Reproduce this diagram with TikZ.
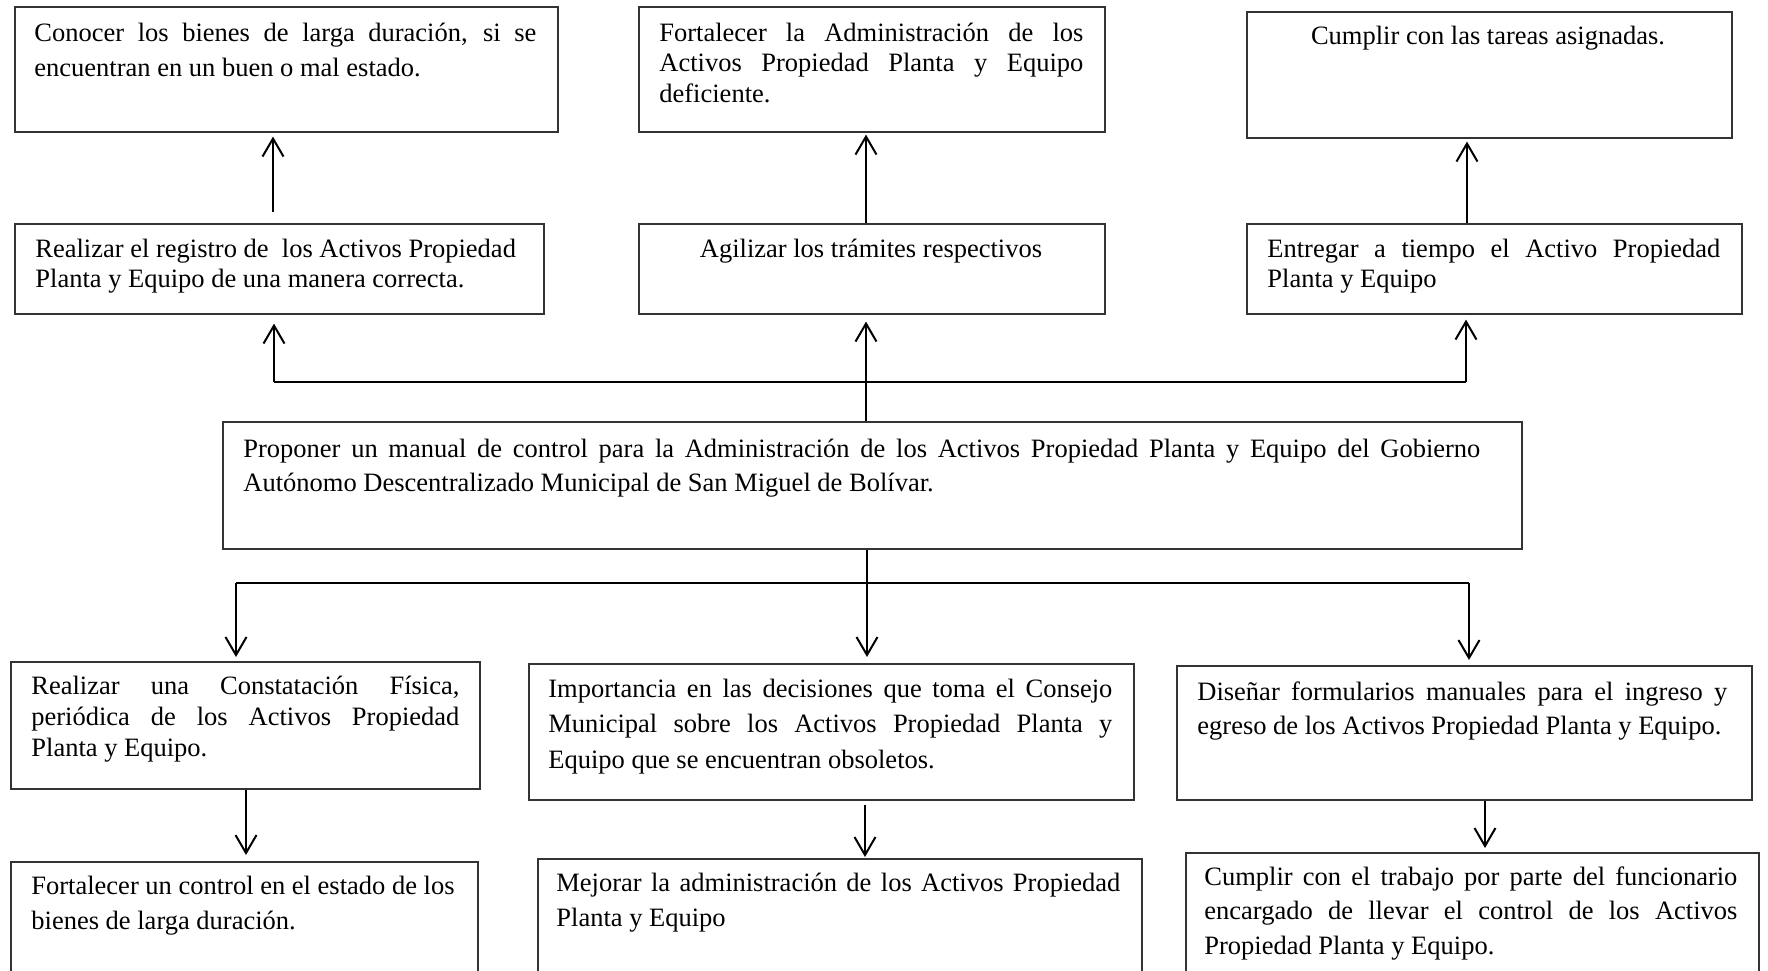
\documentclass[tikz,border=0pt]{standalone}
\usepackage{fontspec}
\setmainfont{Liberation Serif}
\usetikzlibrary{arrows.meta}
% one full-width justified line
\newcommand{\justline}[2]{\makebox[#1][s]{#2}}
\begin{document}
\begin{tikzpicture}[x=0.5pt,y=-0.5pt,
  box/.style={draw=black!80, line width=0.8pt, anchor=north west, inner sep=0pt},
  txt/.style={anchor=base west, inner sep=0pt, font=\fontsize{13.25}{#1}\selectfont},
  ctxt/.style={anchor=base, inner sep=0pt, font=\fontsize{13.25}{16}\selectfont},
  wire/.style={line width=1pt},
  conn/.style={line width=1pt, -{Straight Barb[length=9pt,width=10.5pt]}}]
\useasboundingbox (0,0) rectangle (1768,970);
\clip (0,0) rectangle (1768,970);

% boxes
\node[box, minimum width=271.5pt, minimum height=62.5pt] (A1) at (14,6) {};
\node[box, minimum width=233pt,   minimum height=62.5pt] (B1) at (638,6) {};
\node[box, minimum width=242.5pt, minimum height=63pt]   (C1) at (1246,11) {};
\node[box, minimum width=264.5pt, minimum height=45pt]   (A2) at (14,223) {};
\node[box, minimum width=233pt,   minimum height=45pt]   (B2) at (638,223) {};
\node[box, minimum width=247.5pt, minimum height=45pt]   (C2) at (1246,223) {};
\node[box, minimum width=649.5pt, minimum height=63.5pt] (M)  at (222,421) {};
\node[box, minimum width=234.5pt, minimum height=63.5pt] (D1) at (10,661) {};
\node[box, minimum width=302.5pt, minimum height=68pt]   (E1) at (528,663) {};
\node[box, minimum width=287.5pt, minimum height=67pt]   (F1) at (1176,665) {};
\node[box, minimum width=233.5pt, minimum height=75pt]   (D2) at (10,861) {};
\node[box, minimum width=302pt,   minimum height=75pt]   (E2) at (537,858) {};
\node[box, minimum width=286.5pt, minimum height=75pt]   (F2) at (1185,852) {};

% texts
\node[txt=17.5pt] (tA1) at (34,41) {\parbox[t]{270pt}{%
  \justline{251pt}{Conocer los bienes de larga duración, si se}\\
  encuentran en un buen o mal estado.}};
\node[txt=15.25pt] (tB1) at (659,41) {\parbox[t]{230pt}{%
  \justline{212pt}{Fortalecer la Administración de los}\\
  \justline{212pt}{Activos Propiedad Planta y Equipo}\\
  deficiente.}};
\node[ctxt] (tC1) at (1488,44) {Cumplir con las tareas asignadas.};
\node[txt=15pt] (tA2) at (35,257) {\parbox[t]{260pt}{%
  Realizar el registro de\ \ los Activos Propiedad\\
  Planta y Equipo de una manera correcta.}};
\node[ctxt] (tB2) at (871,257) {Agilizar los trámites respectivos};
\node[txt=15pt] (tC2) at (1267,257) {\parbox[t]{240pt}{%
  \justline{226.5pt}{Entregar a tiempo el Activo Propiedad}\\
  Planta y Equipo}};
\node[txt=17pt] (tM) at (243,457) {\parbox[t]{640pt}{%
  \justline{618.5pt}{Proponer un manual de control para la Administración de los Activos Propiedad Planta y Equipo del Gobierno}\\
  Autónomo Descentralizado Municipal de San Miguel de Bolívar.}};
\node[txt=15.5pt] (tD1) at (31,694) {\parbox[t]{230pt}{%
  \justline{214pt}{Realizar una Constatación Física,}\\
  \justline{214pt}{periódica de los Activos Propiedad}\\
  Planta y Equipo.}};
\node[txt=17.75pt] (tE1) at (548,697) {\parbox[t]{300pt}{%
  \justline{282pt}{Importancia en las decisiones que toma el Consejo}\\
  \justline{282pt}{Municipal sobre los Activos Propiedad Planta y}\\
  Equipo que se encuentran obsoletos.}};
\node[txt=17pt] (tF1) at (1197,700) {\parbox[t]{285pt}{%
  \justline{265pt}{Diseñar formularios manuales para el ingreso y}\\
  egreso de los Activos Propiedad Planta y Equipo.}};
\node[txt=17.5pt] (tD2) at (31,894) {\parbox[t]{230pt}{%
  Fortalecer un control en el estado de los\\
  bienes de larga duración.}};
\node[txt=17.5pt] (tE2) at (556,891) {\parbox[t]{300pt}{%
  \justline{282pt}{Mejorar la administración de los Activos Propiedad}\\
  Planta y Equipo}};
\node[txt=17.25pt] (tF2) at (1204,885) {\parbox[t]{280pt}{%
  \justline{266.5pt}{Cumplir con el trabajo por parte del funcionario}\\
  \justline{266.5pt}{encargado de llevar el control de los Activos}\\
  Propiedad Planta y Equipo.}};

% connector columns and bus junctions
\coordinate (xa) at (273,0);
\coordinate (xb) at (866,0);
\coordinate (xc) at (1467,0);
\coordinate (tbL) at (274,382);
\coordinate (tbR) at (1466,382);
\coordinate (bbL) at (236,583);
\coordinate (bbC) at (867,583);
\coordinate (bbR) at (1469,583);
\coordinate (xd) at (246,0);
\coordinate (xe) at (865,0);
\coordinate (xf) at (1485,0);

% upper level
\draw[conn, shorten <=5.5pt, shorten >=2pt] (A2.north -| xa) -- (A1.south -| xa);
\draw[conn, shorten >=1pt] (B2.north -| xb) -- (B1.south -| xb);
\draw[conn, shorten >=1.5pt] (C2.north -| xc) -- (C1.south -| xc);

% from the central objective upwards
\draw[wire] (tbL) -- (tbR);
\draw[conn, shorten >=3.5pt] (M.north -| xb) -- (B2.south -| xb);
\draw[conn, shorten >=4.5pt] (tbL) -- (A2.south -| tbL);
\draw[conn, shorten >=2.5pt] (tbR) -- (C2.south -| tbR);

% from the central objective downwards
\draw[wire] (bbL) -- (bbR);
\draw[conn, shorten >=3pt] (M.south -| bbC) -- (E1.north -| bbC);
\draw[conn, shorten >=2pt] (bbL) -- (D1.north -| bbL);
\draw[conn, shorten >=2.5pt] (bbR) -- (F1.north -| bbR);

% lower level
\draw[conn, shorten >=3pt] (D1.south -| xd) -- (D2.north -| xd);
\draw[conn, shorten <=2pt, shorten >=0.5pt] (E1.south -| xe) -- (E2.north -| xe);
\draw[conn, shorten >=2pt] (F1.south -| xf) -- (F2.north -| xf);
\end{tikzpicture}
\end{document}
